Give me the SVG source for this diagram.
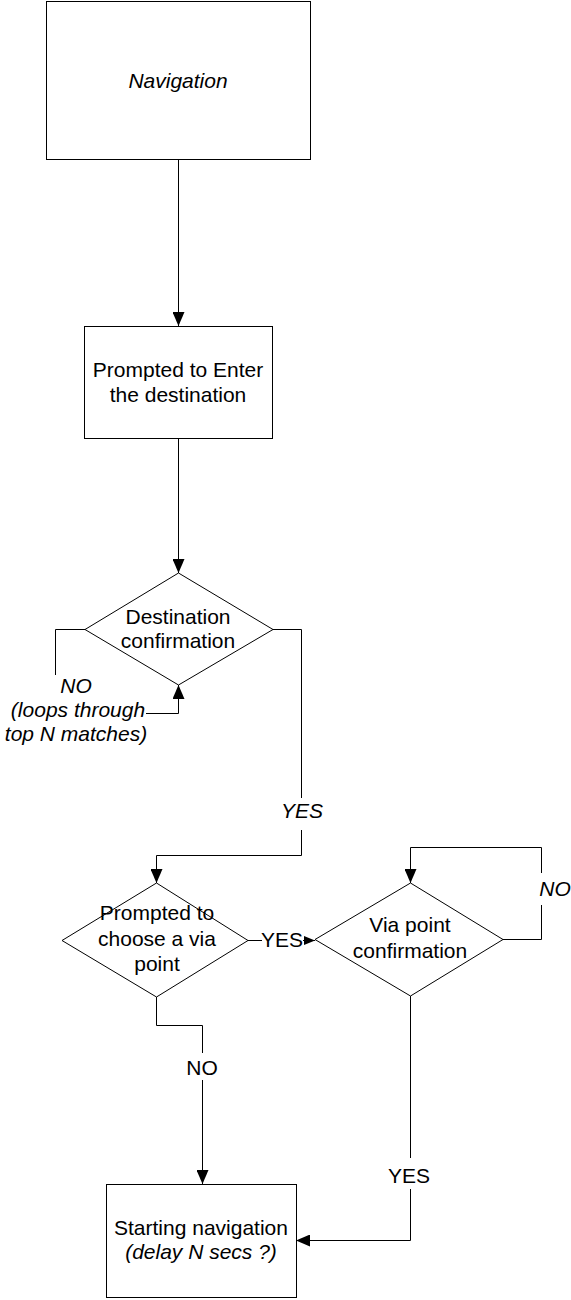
<svg xmlns="http://www.w3.org/2000/svg" width="571" height="1300" viewBox="0 0 571 1300">
<style>
text{font-family:"Liberation Sans",Arial,sans-serif;font-size:21px;fill:#000;text-anchor:middle}
.it{font-style:italic}
.shape{fill:#fff;stroke:#000;stroke-width:1}
.conn path{fill:none;stroke:#000;stroke-width:1}
</style>
<defs>
<marker id="arr" viewBox="0 0 14 12" markerWidth="14" markerHeight="12" refX="14" refY="6" orient="auto" markerUnits="userSpaceOnUse"><path d="M0,0 L14,6 L0,12 z" fill="#000"/></marker>
<marker id="arrs" viewBox="0 0 11 9" markerWidth="11" markerHeight="9" refX="11" refY="4.5" orient="auto" markerUnits="userSpaceOnUse"><path d="M0,0 L11,4.5 L0,9 z" fill="#000"/></marker>
</defs>
<g class="conn" id="connectors">
<path d="M178.5,160 V326" marker-end="url(#arr)"/>
<path d="M178.5,438 V573" marker-end="url(#arr)"/>
<path d="M85,629.5 H55.5 V675"/>
<path d="M146,713.5 H178.5 V685" marker-end="url(#arr)"/>
<path d="M273,629.5 H301.5 V798"/>
<path d="M301.5,830 V855.5 H156.5 V883" marker-end="url(#arr)"/>
<path d="M248,940.5 H262"/>
<path d="M303,940.5 H315" marker-end="url(#arrs)"/>
<path d="M503,939.5 H541.5 V905"/>
<path d="M541.5,873 V847.5 H410.5 V883" marker-end="url(#arr)"/>
<path d="M156.5,997 V1025.5 H202.5 V1053"/>
<path d="M202.5,1080 V1184" marker-end="url(#arr)"/>
<path d="M410.5,996 V1158"/>
<path d="M410.5,1189 V1240.5 H296" marker-end="url(#arr)"/>
</g>
<g id="labels">
<text class="it" x="76" y="693">NO</text>
<text class="it" x="78" y="717">(loops through</text>
<text class="it" x="76" y="741">top N matches)</text>
<text class="it" x="302" y="818">YES</text>
<text x="282" y="947">YES</text>
<text class="it" x="555" y="896">NO</text>
<text x="202" y="1075">NO</text>
<text x="409" y="1183">YES</text>
</g>
<g id="navigation">
<rect class="shape" x="46.5" y="1.5" width="264" height="158"/>
<text class="it" x="178" y="88">Navigation</text>
</g>
<g id="prompted-destination">
<rect class="shape" x="84.5" y="326.5" width="188" height="112"/>
<text x="178" y="377">Prompted to Enter</text>
<text x="178" y="402">the destination</text>
</g>
<g id="destination-confirmation">
<polygon class="shape" points="178.5,573 273,629.5 178.5,685 85,629.5"/>
<text x="178" y="624">Destination</text>
<text x="178" y="648">confirmation</text>
</g>
<g id="choose-via">
<polygon class="shape" points="156.5,883 248,940.5 156.5,997 62,940.5"/>
<text x="157" y="920">Prompted to</text>
<text x="157" y="946">choose a via</text>
<text x="157" y="971">point</text>
</g>
<g id="via-confirmation">
<polygon class="shape" points="410.5,883 503,939.5 410.5,996 315,939.5"/>
<text x="410" y="932">Via point</text>
<text x="410" y="958">confirmation</text>
</g>
<g id="starting-navigation">
<rect class="shape" x="106.5" y="1184.5" width="190" height="113"/>
<text x="201" y="1235">Starting navigation</text>
<text class="it" x="201" y="1259">(delay N secs ?)</text>
</g>
</svg>
